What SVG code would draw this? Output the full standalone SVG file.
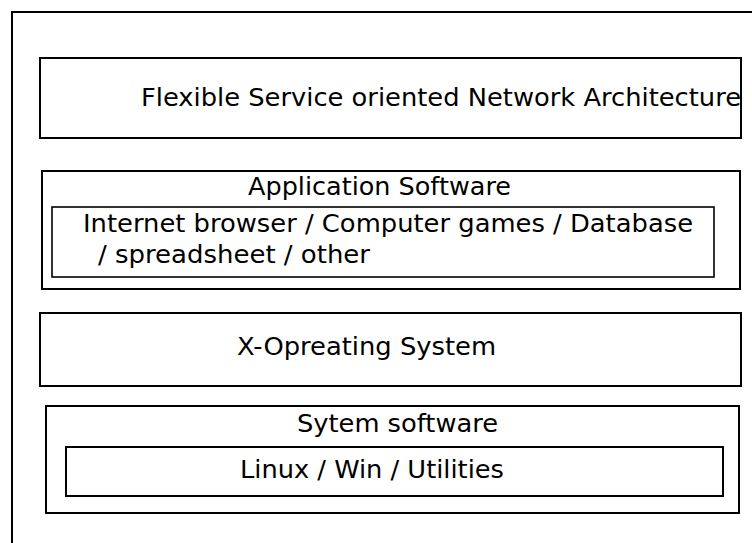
<svg xmlns="http://www.w3.org/2000/svg" width="752" height="543" viewBox="0 0 752 543">
<style>
  rect { fill: #ffffff; stroke: #000000; stroke-width: 2; }
  rect.thin { stroke-width: 1.6; }
  text { font-family: "DejaVu Sans", "Liberation Sans", sans-serif; font-size: 24px; fill: #000000; }
</style>
<rect x="0" y="0" width="752" height="543" style="stroke:none"/>
<g id="frame">
  <rect x="12" y="12" width="770" height="570"/>
</g>
<g id="fsna">
  <rect x="40" y="58" width="701" height="80"/>
  <text x="141" y="106" textLength="600" lengthAdjust="spacingAndGlyphs">Flexible Service oriented Network Architecture</text>
</g>
<g id="application-software">
  <rect x="42" y="171" width="698" height="118"/>
  <text x="248" y="195" textLength="263" lengthAdjust="spacingAndGlyphs">Application Software</text>
  <g id="applications">
    <rect class="thin" x="52" y="207" width="662" height="70"/>
    <text x="83" y="232" textLength="610" lengthAdjust="spacingAndGlyphs">Internet browser / Computer games / Database</text>
    <text x="98" y="263" textLength="272" lengthAdjust="spacingAndGlyphs">/ spreadsheet / other</text>
  </g>
</g>
<g id="x-os">
  <rect x="40" y="313" width="701" height="73"/>
  <text x="237" y="355" textLength="259" lengthAdjust="spacingAndGlyphs">X-Opreating System</text>
</g>
<g id="system-software">
  <rect x="46" y="406" width="693" height="107"/>
  <text x="297" y="432" textLength="201" lengthAdjust="spacingAndGlyphs">Sytem software</text>
  <g id="os-list">
    <rect x="66" y="447" width="657" height="49"/>
    <text x="240" y="478" textLength="264" lengthAdjust="spacingAndGlyphs">Linux / Win / Utilities</text>
  </g>
</g>
<g id="connectors"></g>
</svg>
